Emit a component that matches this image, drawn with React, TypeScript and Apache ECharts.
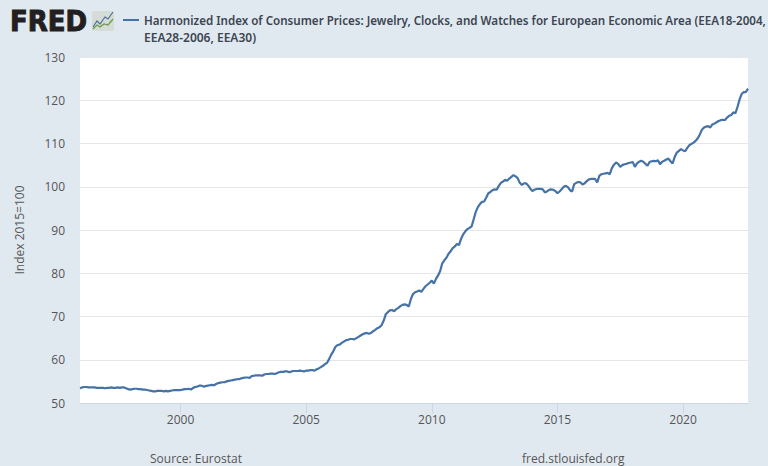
import React, { useEffect, useRef } from "react";
import * as echarts from "echarts";

const TITLE_LINES = [
  "Harmonized Index of Consumer Prices: Jewelry, Clocks, and Watches for European Economic Area (EEA18-2004,",
  "EEA28-2006, EEA30)",
];
const Y_NAME = "Index 2015=100";
const SOURCE = "Source: Eurostat";
const SITE = "fred.stlouisfed.org";

const v1996 = [53.4, 53.6, 53.7, 53.7, 53.6, 53.6, 53.6, 53.6, 53.5, 53.5, 53.5, 53.5];
const v1997 = [53.4, 53.5, 53.5, 53.6, 53.5, 53.5, 53.6, 53.5, 53.6, 53.6, 53.4, 53.2];
const v1998 = [53.1, 53.2, 53.3, 53.3, 53.2, 53.2, 53.1, 53.1, 53.0, 52.9, 52.8, 52.7];
const v1999 = [52.7, 52.8, 52.8, 52.8, 52.7, 52.8, 52.7, 52.8, 52.9, 53.0, 53.0, 53.0];
const v2000 = [53.0, 53.1, 53.2, 53.2, 53.3, 53.1, 53.5, 53.7, 53.8, 54.0, 54.0, 53.8];
const v2001 = [53.9, 54.0, 54.1, 54.2, 54.1, 54.4, 54.6, 54.7, 54.8, 54.8, 55.0, 55.1];
const v2002 = [55.2, 55.3, 55.4, 55.5, 55.5, 55.7, 55.8, 55.9, 55.9, 55.8, 56.2, 56.3];
const v2003 = [56.4, 56.4, 56.4, 56.3, 56.6, 56.7, 56.7, 56.8, 56.8, 56.7, 56.9, 57.1];
const v2004 = [57.2, 57.2, 57.3, 57.3, 57.1, 57.3, 57.4, 57.4, 57.4, 57.5, 57.4, 57.3];
const v2005 = [57.5, 57.5, 57.6, 57.6, 57.5, 57.8, 58.0, 58.3, 58.6, 59.0, 59.3, 60.2];
const v2006 = [61.2, 62.0, 63.0, 63.4, 63.5, 63.9, 64.2, 64.5, 64.6, 64.8, 64.8, 64.7];
const v2007 = [65.0, 65.3, 65.6, 65.9, 66.1, 66.2, 66.0, 66.2, 66.6, 66.9, 67.3, 67.5];
const v2008 = [68.0, 69.0, 70.5, 71.0, 71.4, 71.5, 71.2, 71.7, 72.0, 72.4, 72.7, 72.8];
const v2009 = [72.7, 72.3, 74.0, 75.2, 75.6, 75.8, 76.0, 75.7, 76.4, 77.0, 77.4, 77.8];
const v2010 = [78.3, 77.6, 78.7, 79.5, 80.5, 82.3, 83.0, 83.6, 84.5, 85.1, 85.8, 86.2];
const v2011 = [86.8, 86.5, 88.0, 89.0, 89.7, 90.2, 90.5, 90.8, 92.5, 94.2, 95.3, 96.0];
const v2012 = [96.5, 96.6, 97.5, 98.5, 98.8, 99.2, 99.4, 99.3, 100.2, 100.9, 101.2, 101.6];
const v2013 = [101.4, 101.9, 102.3, 102.7, 102.4, 102.0, 100.9, 100.4, 100.8, 100.8, 100.3, 99.6];
const v2014 = [99.0, 99.3, 99.5, 99.5, 99.5, 99.4, 98.7, 98.9, 99.3, 99.4, 99.3, 99.0];
const v2015 = [98.5, 98.9, 99.4, 100.0, 100.2, 99.9, 99.2, 98.9, 100.6, 100.9, 101.1, 101.0];
const v2016 = [100.5, 100.8, 101.3, 101.7, 101.8, 101.8, 101.8, 101.0, 102.5, 102.9, 103.0, 103.1];
const v2017 = [103.2, 102.9, 104.3, 105.1, 105.6, 105.3, 104.6, 105.0, 105.2, 105.3, 105.5, 105.6];
const v2018 = [105.7, 104.6, 105.4, 105.8, 106.0, 105.8, 105.3, 104.9, 105.7, 105.9, 106.0, 105.9];
const v2019 = [106.1, 105.2, 105.8, 106.0, 106.3, 106.5, 105.9, 105.4, 106.9, 107.9, 108.3, 108.7];
const v2020 = [108.4, 108.2, 109.0, 109.6, 109.9, 110.2, 110.6, 111.2, 112.1, 113.2, 113.7, 113.9];
const v2021 = [114.0, 113.7, 114.4, 114.6, 114.9, 115.2, 115.4, 115.5, 115.4, 116.0, 116.4, 116.6];
const v2022 = [117.2, 117.0, 118.5, 120.2, 121.5, 121.9, 121.9, 122.7];

const yearly = [
  v1996, v1997, v1998, v1999, v2000, v2001, v2002, v2003, v2004, v2005, v2006, v2007, v2008,
  v2009, v2010, v2011, v2012, v2013, v2014, v2015, v2016, v2017, v2018, v2019, v2020, v2021, v2022,
];
const FIRST_YEAR = 1996;
const months: string[] = [];
const values: number[] = [];
yearly.forEach((arr, i) =>
  arr.forEach((val, m) => {
    months.push(`${FIRST_YEAR + i}-${String(m + 1).padStart(2, "0")}`);
    values.push(val);
  })
);

const FONT = "'Open Sans', sans-serif";
const TITLE_FONT = "'Noto Sans', sans-serif";
const isTick = (_: number, name: string) =>
  name.endsWith("-01") && Number(name.slice(0, 4)) % 5 === 0;

export default function App() {
  const ref = useRef<HTMLDivElement>(null);
  useEffect(() => {
    const chart = echarts.init(ref.current!, undefined, { renderer: "svg" });
    chart.setOption({
      animation: false,
      backgroundColor: "#e1e9f0",
      grid: { show: true, backgroundColor: "#ffffff", borderWidth: 0, left: 80, right: 20, top: 57, bottom: 63 },
      xAxis: {
        type: "category",
        data: months,
        boundaryGap: false,
        axisLine: { lineStyle: { color: "#ccd6eb", width: 1 } },
        axisTick: { interval: isTick, length: 10, lineStyle: { color: "#ccd6eb", width: 1 } },
        axisLabel: {
          interval: isTick,
          formatter: (s: string) => s.slice(0, 4),
          color: "#555555",
          fontFamily: FONT,
          fontSize: 12,
          margin: 10,
        },
        splitLine: { show: false },
      },
      yAxis: {
        type: "value",
        min: 50,
        max: 130,
        interval: 10,
        axisLine: { show: false },
        axisTick: { show: false },
        axisLabel: { color: "#555555", fontFamily: FONT, fontSize: 12, margin: 15 },
        splitLine: { lineStyle: { color: "#e6e6e6", width: 1 } },
        name: Y_NAME,
        nameLocation: "middle",
        nameRotate: 90,
        nameGap: 55,
        nameTextStyle: { color: "#555555", fontFamily: FONT, fontSize: 12 },
      },
      series: [
        {
          type: "line",
          name: TITLE_LINES.join(" "),
          data: values,
          showSymbol: false,
          smooth: false,
          lineStyle: { color: "#4572a7", width: 2.2 },
          itemStyle: { color: "#4572a7" },
        },
      ],
      graphic: [
        {
          type: "text", x: 10, y: 7, scaleX: 0.93,
          style: { x: 0, y: 0, text: "FRED", fontFamily: "'DejaVu Sans'", fontWeight: 900, fontSize: 28, fill: "#231f20", stroke: "#231f20", lineWidth: 1 },
        },
        { type: "rect", shape: { x: 92, y: 11, width: 22, height: 20, r: 2 }, style: { fill: "#d5dbd6" } },
        {
          type: "polyline",
          shape: { points: [[93, 27], [97, 21], [100, 24], [105, 17], [108, 19], [113, 12]] },
          style: { stroke: "#4d7196", fill: "none", lineWidth: 1.2 },
        },
        {
          type: "polyline",
          shape: { points: [[93, 29], [97, 25], [100, 27], [104, 24], [108, 25], [113, 19]] },
          style: { stroke: "#6f9a45", fill: "none", lineWidth: 1.2 },
        },
        { type: "line", shape: { x1: 123, y1: 20, x2: 139, y2: 20 }, style: { stroke: "#4572a7", lineWidth: 2 } },
        {
          type: "text", left: 144, top: 14,
          style: { text: TITLE_LINES[0], fontFamily: TITLE_FONT, fontWeight: 600, fontSize: 11.6, fill: "#3c4550" },
        },
        {
          type: "text", left: 144, top: 31,
          style: { text: TITLE_LINES[1], fontFamily: TITLE_FONT, fontWeight: 600, fontSize: 12, fill: "#3c4550" },
        },
        {
          type: "text", left: 150, top: 452,
          style: { text: SOURCE, fontFamily: FONT, fontSize: 12, fill: "#555555" },
        },
        {
          type: "text", left: 522, top: 452,
          style: { text: SITE, fontFamily: FONT, fontSize: 12, fill: "#555555" },
        },
      ],
    });
    return () => chart.dispose();
  }, []);
  return <div ref={ref} style={{ position: "absolute", left: 0, top: 0, width: 768, height: 466 }} />;
}
